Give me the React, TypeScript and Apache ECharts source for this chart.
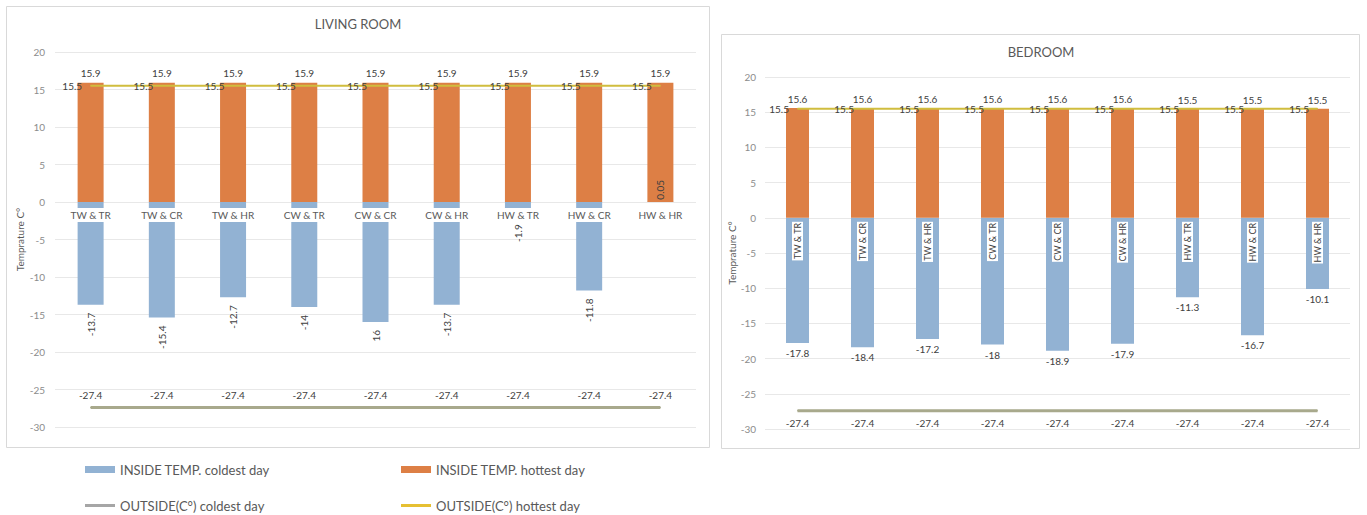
import React, { useEffect, useRef } from "react";
import * as echarts from "echarts";

const categories = ["TW & TR", "TW & CR", "TW & HR", "CW & TR", "CW & CR", "CW & HR", "HW & TR", "HW & CR", "HW & HR"];

// LIVING ROOM
const lrColdest = [-13.7, -15.4, -12.7, -14, -16, -13.7, -1.9, -11.8, 0.05];
const lrColdestLabels = ["-13.7", "-15.4", "-12.7", "-14", "16", "-13.7", "-1.9", "-11.8", "0.05"];
const lrHottest = [15.9, 15.9, 15.9, 15.9, 15.9, 15.9, 15.9, 15.9, 15.9];
const lrOutsideCold = [-27.4, -27.4, -27.4, -27.4, -27.4, -27.4, -27.4, -27.4, -27.4];
const lrOutsideHot = [15.5, 15.5, 15.5, 15.5, 15.5, 15.5, 15.5, 15.5, 15.5];

// BEDROOM
const brColdest = [-17.8, -18.4, -17.2, -18, -18.9, -17.9, -11.3, -16.7, -10.1];
const brHottest = [15.6, 15.6, 15.6, 15.6, 15.6, 15.6, 15.5, 15.5, 15.5];
const brOutsideCold = [-27.4, -27.4, -27.4, -27.4, -27.4, -27.4, -27.4, -27.4, -27.4];
const brOutsideHot = [15.5, 15.5, 15.5, 15.5, 15.5, 15.5, 15.5, 15.5, 15.5];

const yMin = -30;
const yMax = 20;
const yStep = 5;

const S_COLD = "INSIDE TEMP. coldest day";
const S_HOT = "INSIDE TEMP. hottest day";
const S_OCOLD = "OUTSIDE(C°) coldest day";
const S_OHOT = "OUTSIDE(C°) hottest day";

const BLUE = "#92b2d3";
const ORANGE = "#dd7f45";
const OLIVE = "#a8a98c";
const YELLOW = "#d0bd3e";
const FONT = "Lato";
const LEGEND_FONT = "'Liberation Sans Narrow', Lato";
const LABEL_C = "#404040";

const LR_GRID = { left: 55, top: 52, width: 641, height: 375 };
const BR_GRID = { left: 765, top: 77, width: 585, height: 352 };

// distance from the bottom of a grid up to the value 0
const zeroOffset = (h: number) => (h * (0 - yMin)) / (yMax - yMin);

export default function App() {
  const ref = useRef<HTMLDivElement>(null);

  useEffect(() => {
    if (!ref.current) return;
    const chart = echarts.init(ref.current, null, { renderer: "svg" });

    const yAxisBase = (gridIndex: number, margin: number, nameGap: number) => ({
      type: "value",
      gridIndex,
      min: yMin,
      max: yMax,
      interval: yStep,
      name: "Temprature C°",
      nameLocation: "middle",
      nameGap,
      nameRotate: 90,
      nameTextStyle: { color: "#595959", fontSize: 10, fontFamily: FONT },
      axisLine: { show: false },
      axisTick: { show: false },
      axisLabel: { color: "#8c8c8c", fontSize: 10, fontFamily: FONT, margin },
      splitLine: { lineStyle: { color: "#e8e8e8" } },
    });

    const lineLabel = (pos: string, dist: number) => ({
      show: true,
      position: pos,
      distance: dist,
      color: LABEL_C,
      fontSize: 10,
      fontFamily: FONT,
    });

    const legendText = { color: "#595959", fontSize: 13, fontFamily: LEGEND_FONT };

    const option: any = {
      animation: false,
      backgroundColor: "#fff",
      title: [
        {
          text: "LIVING ROOM",
          left: 358,
          top: 17,
          textAlign: "center",
          padding: 0,
          textStyle: { color: "#595959", fontSize: 13, fontWeight: "normal", fontFamily: FONT },
        },
        {
          text: "BEDROOM",
          left: 1041,
          top: 45,
          textAlign: "center",
          padding: 0,
          textStyle: { color: "#595959", fontSize: 13, fontWeight: "normal", fontFamily: FONT },
        },
      ],
      graphic: [
        { type: "rect", shape: { x: 6.5, y: 6.5, width: 703, height: 441 }, style: { fill: "none", stroke: "#d9d9d9", lineWidth: 1 }, z: -1 },
        { type: "rect", shape: { x: 721.5, y: 34.5, width: 638, height: 414 }, style: { fill: "none", stroke: "#d9d9d9", lineWidth: 1 }, z: -1 },
      ],
      legend: [
        {
          data: [{ name: S_COLD, icon: "rect" }],
          left: 85, top: 463, padding: 0, itemWidth: 30, itemHeight: 7, itemGap: 0,
          textStyle: legendText, selectedMode: false,
        },
        {
          data: [{ name: S_HOT, icon: "rect" }],
          left: 401, top: 463, padding: 0, itemWidth: 30, itemHeight: 7, itemGap: 0,
          textStyle: legendText, selectedMode: false,
        },
        {
          data: [{ name: S_OCOLD, icon: "rect", itemStyle: { color: "#a6a6a6" } }],
          left: 85, top: 499, padding: 0, itemWidth: 30, itemHeight: 3, itemGap: 0,
          textStyle: legendText, selectedMode: false,
        },
        {
          data: [{ name: S_OHOT, icon: "rect", itemStyle: { color: "#e6c032" } }],
          left: 401, top: 499, padding: 0, itemWidth: 30, itemHeight: 3, itemGap: 0,
          textStyle: legendText, selectedMode: false,
        },
      ],
      grid: [LR_GRID, BR_GRID],
      xAxis: [
        {
          type: "category",
          gridIndex: 0,
          data: categories,
          z: 10,
          position: "bottom",
          offset: -zeroOffset(LR_GRID.height),
          axisLine: { show: false, onZero: false },
          axisTick: { show: false },
          axisLabel: {
            color: "#595959",
            fontSize: 10,
            fontFamily: FONT,
            margin: 6,
            backgroundColor: "#fff",
            padding: [2, 3, 2, 3],
            interval: 0,
          },
        },
        {
          type: "category",
          gridIndex: 1,
          data: categories,
          z: 10,
          position: "bottom",
          offset: -zeroOffset(BR_GRID.height),
          axisLine: { show: false, onZero: false },
          axisTick: { show: false },
          axisLabel: {
            color: "#404040",
            fontSize: 9,
            fontFamily: FONT,
            margin: 4,
            rotate: 90,
            backgroundColor: "#fff",
            padding: [1, 1, 1, 1],
            interval: 0,
          },
        },
      ],
      yAxis: [yAxisBase(0, 10, 30), yAxisBase(1, 9, 25)],
      series: [
        // LIVING ROOM
        {
          name: S_COLD,
          type: "bar",
          xAxisIndex: 0,
          yAxisIndex: 0,
          barWidth: 26,
          barGap: "-100%",
          itemStyle: { color: BLUE },
          data: lrColdest.map((v) =>
            v >= 0
              ? { value: v, label: { position: "top", align: "left", distance: 2 } }
              : v
          ),
          label: {
            show: true,
            position: "bottom",
            rotate: 90,
            align: "right",
            verticalAlign: "middle",
            distance: 8,
            color: LABEL_C,
            fontSize: 10,
            fontFamily: FONT,
            formatter: (p: any) => lrColdestLabels[p.dataIndex],
          },
        },
        {
          name: S_HOT,
          type: "bar",
          xAxisIndex: 0,
          yAxisIndex: 0,
          barWidth: 26,
          barGap: "-100%",
          itemStyle: { color: ORANGE },
          data: lrHottest,
          label: lineLabel("top", 5),
        },
        {
          name: S_OCOLD,
          type: "line",
          xAxisIndex: 0,
          yAxisIndex: 0,
          data: lrOutsideCold,
          symbol: "circle",
          symbolSize: 1,
          itemStyle: { color: OLIVE },
          lineStyle: { color: OLIVE, width: 3 },
          label: lineLabel("top", 7),
        },
        {
          name: S_OHOT,
          type: "line",
          xAxisIndex: 0,
          yAxisIndex: 0,
          data: lrOutsideHot,
          symbol: "circle",
          symbolSize: 1,
          itemStyle: { color: YELLOW },
          lineStyle: { color: YELLOW, width: 2 },
          label: lineLabel("left", 8),
        },
        // BEDROOM
        {
          name: S_COLD,
          type: "bar",
          xAxisIndex: 1,
          yAxisIndex: 1,
          barWidth: 23,
          barGap: "-100%",
          itemStyle: { color: BLUE },
          data: brColdest,
          label: lineLabel("bottom", 5),
        },
        {
          name: S_HOT,
          type: "bar",
          xAxisIndex: 1,
          yAxisIndex: 1,
          barWidth: 23,
          barGap: "-100%",
          itemStyle: { color: ORANGE },
          data: brHottest,
          label: lineLabel("top", 4),
        },
        {
          name: S_OCOLD,
          type: "line",
          xAxisIndex: 1,
          yAxisIndex: 1,
          data: brOutsideCold,
          symbol: "circle",
          symbolSize: 1,
          itemStyle: { color: OLIVE },
          lineStyle: { color: OLIVE, width: 3 },
          label: lineLabel("bottom", 7),
        },
        {
          name: S_OHOT,
          type: "line",
          xAxisIndex: 1,
          yAxisIndex: 1,
          data: brOutsideHot,
          symbol: "circle",
          symbolSize: 1,
          itemStyle: { color: YELLOW },
          lineStyle: { color: YELLOW, width: 2 },
          label: lineLabel("left", 8),
        },
      ],
    };

    chart.setOption(option);
    return () => chart.dispose();
  }, []);

  return (
    <div
      ref={ref}
      style={{ position: "absolute", left: 0, top: 0, width: 1367, height: 515, background: "#fff" }}
    />
  );
}
